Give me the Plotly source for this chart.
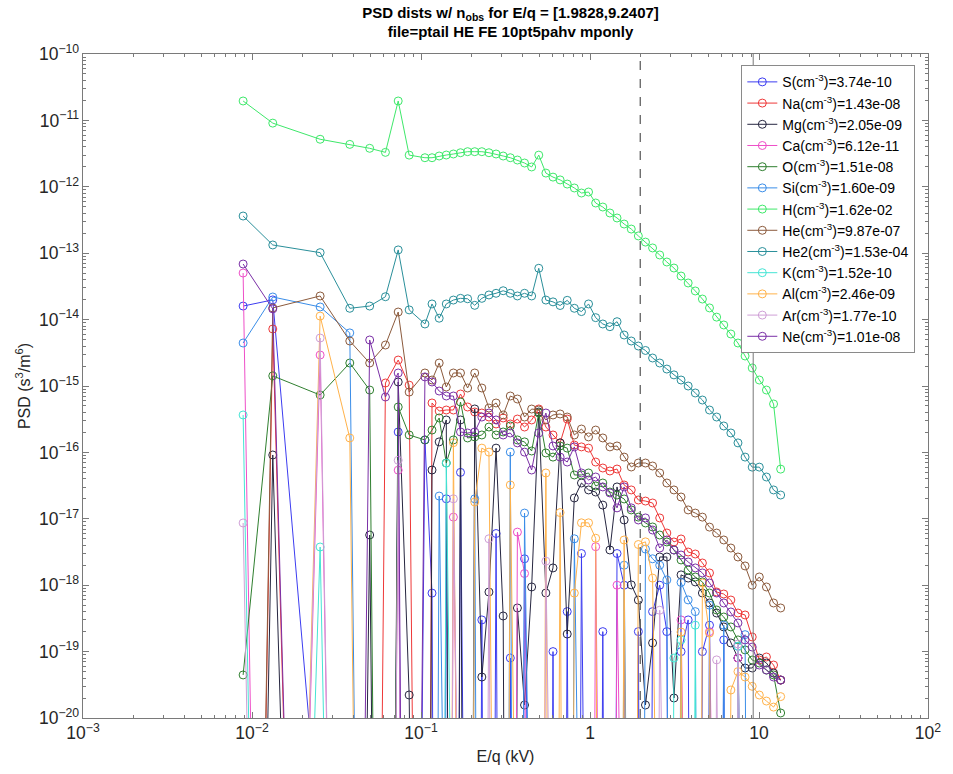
import plotly.graph_objects as go

# Energy steps (kV)
E_kV = [0.00886, 0.01327, 0.0253, 0.0379, 0.0497, 0.0616, 0.0733, 0.0851,
        0.1055, 0.1162, 0.1281, 0.1411, 0.1555, 0.1713, 0.1887, 0.2079, 0.2291, 0.2524,
        0.2781, 0.3064, 0.3376, 0.3720, 0.4099, 0.4516, 0.4976, 0.5482, 0.6040, 0.6655,
        0.7333, 0.8079, 0.8901, 0.9806, 1.0805, 1.1905, 1.3117, 1.4454, 1.5922, 1.7543,
        1.9324, 2.1293, 2.3462, 2.5853, 2.8489, 3.1385, 3.4578, 3.8098, 4.1976, 4.6248,
        5.0954, 5.6145, 6.1858, 6.8155, 7.5093, 8.2737, 9.1168, 10.044, 11.066, 12.194, 13.434]

species = ["S", "Na", "Mg", "Ca", "O", "Si", "H", "He", "He2", "K", "Al", "Ar", "Ne"]
density = ["3.74e-10", "1.43e-08", "2.05e-09", "6.12e-11", "1.51e-08", "1.60e-09", "1.62e-02",
           "9.87e-07", "1.53e-04", "1.52e-10", "2.46e-09", "1.77e-10", "1.01e-08"]
colors = ["#3c3cf0", "#ee3838", "#262640", "#ee4fc8", "#2f7f2f", "#3a8de8", "#3ee86a",
          "#8b5a3c", "#2a8f9a", "#44e4d4", "#ffb24a", "#cf9fd6", "#7a2fa6"]

E_low, E_high = 1.9828, 9.2407

psd_S = [1.60e-14, 1.98e-14, 1e-22, 1e-40, 1e-40, 1e-40, 2.03e-16, 1e-40,
         1.54e-16, 7.6e-19, 1e-40, 2.0e-17, 1e-40, 5.0e-17, 1e-40, 1e-40, 3.0e-19, 1e-40,
         6.0e-18, 1e-40, 8.0e-20, 1e-40, 2.5e-18, 1e-40, 1e-40, 1e-40, 1.0e-19, 1e-40,
         4.0e-19, 1e-40, 3.0e-18, 1e-40, 1e-40, 2.0e-19, 1e-40, 3.0e-18, 1.0e-18, 1e-40,
         2.0e-19, 1e-40, 4.0e-19, 1.0e-18, 2.0e-19, 1e-40, 1.0e-19, 3.0e-19, 1e-40, 1.0e-19,
         2.5e-19, 1e-40, 1.5e-19, 1e-40, 8.0e-20, 1e-40, 1e-40, 1e-40, 1e-40, 1e-40, 1e-40]

psd_Na = [1e-40, 7.22e-15, 1e-40, 1e-40, 1e-40, 1.11e-15, 2.46e-15, 1.03e-15,
          1e-40, 5.55e-16, 4.2e-16, 4.35e-16, 4.35e-16, 7.58e-16, 4.83e-16, 4.06e-16, 3.92e-16, 3.41e-16,
          2.68e-16, 3.30e-16, 2.68e-16, 3.18e-16, 2.41e-16, 3.08e-16, 4.51e-16, 2.41e-16, 1.83e-16, 1.39e-16,
          3.18e-16, 1.29e-16, 1.21e-16, 1.16e-16, 7.16e-17, 5.82e-17, 5.25e-17, 5.62e-17, 3.23e-17, 2.72e-17,
          1.92e-17, 1.85e-17, 1.73e-17, 1.03e-17, 6.11e-18, 4.48e-18, 4.97e-18, 3.16e-18, 2.95e-18, 2.16e-18,
          1.53e-18, 7.9e-19, 7.37e-19, 5.98e-19, 3.81e-19, 3.56e-19, 1.66e-19, 7.47e-20, 8.3e-20, 6.28e-20, 3.73e-20]

psd_Mg = [1e-40, 9.14e-17, 1e-40, 1e-40, 5.70e-18, 1e-40, 1.15e-15, 2.22e-20,
          1e-40, 5.43e-17, 1.44e-16, 3.08e-16, 1e-40, 3.08e-16, 1e-40, 4.51e-16, 4.14e-20, 7.9e-19,
          1.16e-16, 3.44e-19, 1e-40, 4.54e-19, 1.57e-20, 9.4e-19, 4.06e-16, 7.63e-19, 1.82e-18, 1.39e-16,
          1.84e-19, 2.06e-17, 3.46e-17, 2.72e-17, 2.53e-17, 1.61e-17, 3.39e-18, 3.02e-17, 9.6e-18, 1.01e-18,
          5.98e-19, 1.57e-20, 1.35e-19, 2.66e-18, 2.66e-18, 2.0e-20, 1.43e-18, 1.28e-18, 1.12e-18, 7.63e-19,
          5.40e-19, 3.81e-19, 2.35e-19, 1.35e-19, 8.0e-20, 5.66e-20, 5.66e-20, 8.0e-20, 6.73e-20, 4.76e-20, 3.73e-20]

psd_Ca = [5.03e-14, 1e-40, 2.93e-15, 1e-40, 1e-40, 1e-40, 5.4e-17, 1e-40,
          1e-40, 1e-40, 1e-40, 1e-40, 1.06e-17, 1e-40, 1e-40, 1e-40, 1e-40, 1e-40,
          1e-40, 1e-40, 1e-40, 6.3e-18, 1.5e-18, 1e-40, 1e-40, 1e-40, 1e-40, 1e-40,
          1e-40, 1e-40, 1e-40, 1e-40, 3.8e-18, 1e-40, 1e-40, 1.0e-18, 1e-40, 1e-40,
          1e-40, 1e-40, 1e-40, 1e-40, 1e-40, 1e-40, 3.0e-19, 1e-40, 1e-40, 1e-40,
          2.0e-19, 1e-40, 1e-40, 1e-40, 8.0e-20, 1e-40, 1e-40, 1e-40, 1e-40, 1e-40, 1e-40]

psd_O = [4.45e-20, 1.42e-15, 7.32e-16, 2.22e-15, 8.7e-16, 1e-40, 4.83e-16, 1.83e-16,
         1.54e-16, 2.17e-16, 3.30e-16, 6.92e-17, 1.54e-16, 5.74e-16, 1.65e-16, 1.71e-16, 1.83e-16, 2.41e-16,
         1.83e-16, 2.03e-16, 2.50e-16, 1.54e-16, 1.44e-16, 1.05e-16, 3.92e-16, 9.8e-17, 8.5e-17, 1.25e-16,
         1.16e-16, 4.57e-17, 4.57e-17, 4.9e-17, 3.12e-17, 3.46e-17, 2.53e-17, 2.28e-17, 1.99e-17, 1.36e-17,
         1.06e-17, 8.65e-18, 7.53e-18, 5.70e-18, 4.48e-18, 3.39e-18, 2.40e-18, 1.69e-18, 1.33e-18, 1.12e-18,
         7.63e-19, 4.23e-19, 3.32e-19, 2.35e-19, 1.50e-19, 1.06e-19, 7.47e-20, 6.73e-20, 5.28e-20, 4.45e-20, 1.19e-20]

psd_Si = [4.44e-15, 2.19e-14, 1.55e-14, 6.3e-15, 1e-40, 1e-40, 1e-40, 1e-40,
          1e-40, 1e-40, 2.2e-17, 1e-40, 1e-40, 1e-40, 1e-40, 2.0e-17, 1e-40, 1e-40,
          1e-40, 1e-40, 1.01e-16, 1e-40, 1.22e-17, 1e-40, 1e-40, 1e-40, 1e-40, 1e-40,
          1e-40, 5.0e-18, 1e-40, 1e-40, 1e-40, 1e-40, 1e-40, 1e-40, 2.0e-18, 1e-40,
          1e-40, 3.5e-18, 2.5e-18, 2.0e-18, 1.2e-18, 1e-40, 1.1e-18, 6.0e-19, 4.0e-19, 1e-40,
          5.0e-19, 1e-40, 2.5e-19, 1e-40, 1.2e-19, 1.8e-19, 1e-40, 1e-40, 1e-40, 1e-40, 1e-40]

psd_H = [1.96e-11, 9.1e-12, 5.2e-12, 4.35e-12, 3.8e-12, 3.3e-12, 1.96e-11, 3.0e-12,
         2.74e-12, 2.74e-12, 2.91e-12, 3.01e-12, 3.12e-12, 3.26e-12, 3.38e-12, 3.38e-12, 3.38e-12, 3.26e-12,
         3.12e-12, 2.91e-12, 2.74e-12, 2.53e-12, 2.28e-12, 1.99e-12, 3.0e-12, 1.61e-12, 1.40e-12, 1.27e-12,
         1.10e-12, 9.6e-13, 8.06e-13, 8.35e-13, 5.7e-13, 4.96e-13, 4.03e-13, 3.39e-13, 2.75e-13, 2.31e-13,
         1.82e-13, 1.47e-13, 1.20e-13, 9.4e-14, 7.37e-14, 5.98e-14, 4.53e-14, 3.56e-14, 2.70e-14, 2.04e-14,
         1.50e-14, 1.09e-14, 8.3e-15, 6.07e-15, 4.44e-15, 2.83e-15, 1.87e-15, 1.23e-15, 8.7e-16, 5.36e-16, 5.6e-17]

psd_He = [1e-40, 1.50e-14, 2.27e-14, 4.76e-15, 2.22e-15, 4.14e-15, 1.30e-14, 8.1e-16,
          1.57e-15, 1.23e-15, 2.22e-15, 9.66e-16, 1.57e-15, 1.57e-15, 9.33e-16, 1.57e-15, 9.33e-16, 4.66e-16,
          5.55e-16, 3.66e-16, 7.07e-16, 6.37e-16, 3.41e-16, 4.5e-16, 4.35e-16, 3.08e-16, 3.66e-16, 3.79e-16,
          3.41e-16, 1.83e-16, 2.25e-16, 1.71e-16, 2.17e-16, 1.65e-16, 1.21e-16, 1.25e-16, 8.5e-17, 6.03e-17,
          6.92e-17, 6.92e-17, 6.24e-17, 4.9e-17, 3.46e-17, 2.72e-17, 2.13e-17, 1.36e-17, 1.22e-17, 1.06e-17,
          7.5e-18, 6.1e-18, 4.8e-18, 3.63e-18, 2.66e-18, 1.95e-18, 1.0e-18, 1.33e-18, 9.4e-19, 5.4e-19, 4.54e-19]

psd_He2 = [3.63e-13, 1.33e-13, 1.02e-13, 1.48e-14, 1.60e-14, 2.21e-14, 1.12e-13, 1.40e-14,
           8.59e-15, 1.72e-14, 1.05e-14, 1.72e-14, 1.97e-14, 2.09e-14, 2.06e-14, 1.64e-14, 2.09e-14, 2.35e-14,
           2.49e-14, 2.72e-14, 2.49e-14, 2.27e-14, 2.49e-14, 2.27e-14, 5.93e-14, 1.97e-14, 1.85e-14, 1.63e-14,
           1.95e-14, 1.48e-14, 1.32e-14, 1.72e-14, 1.07e-14, 8.59e-15, 7.82e-15, 9.3e-15, 5.86e-15, 4.76e-15,
           4.0e-15, 3.43e-15, 2.64e-15, 2.22e-15, 1.80e-15, 1.47e-15, 1.23e-15, 1.0e-15, 7.85e-16, 6.15e-16,
           4.35e-16, 3.41e-16, 2.50e-16, 1.96e-16, 1.39e-16, 8.5e-17, 6.0e-17, 6.0e-17, 4.26e-17, 2.72e-17, 2.28e-17]

psd_K = [3.66e-16, 1e-40, 3.76e-18, 1e-40, 1e-40, 1e-40, 1e-40, 1e-40,
         1e-40, 1e-40, 1e-40, 6.9e-17, 1e-40, 1e-40, 1e-40, 1e-40, 1e-40, 1e-40,
         1e-40, 1e-40, 1e-40, 1e-40, 1e-40, 1e-40, 1e-40, 1e-40, 1e-40, 1e-40,
         1e-40, 1e-40, 1e-40, 1e-40, 1e-40, 1e-40, 1e-40, 1e-40, 1e-40, 1e-40,
         1e-40, 1e-40, 1e-40, 1e-40, 1e-40, 8.0e-20, 1.5e-19, 1e-40, 2.5e-19, 1e-40,
         1e-40, 1e-40, 1e-40, 1e-40, 1.2e-19, 1e-40, 1e-40, 1e-40, 1e-40, 1e-40, 1e-40]

psd_Al = [1e-40, 1e-40, 1.13e-14, 1.65e-16, 1e-40, 1e-40, 1e-40, 1e-40,
          1e-40, 1e-40, 1e-40, 1e-40, 1.4e-16, 1e-40, 1e-40, 1.79e-17, 1.16e-16, 1.01e-16,
          1e-40, 1e-40, 3.23e-17, 1e-40, 1e-40, 1e-40, 1e-40, 4.9e-17, 1e-40, 1.24e-17,
          1e-40, 7.6e-19, 8.7e-18, 8.7e-18, 5.1e-18, 1e-40, 1e-40, 1e-40, 4.8e-18, 1e-40,
          4.1e-18, 4.5e-18, 1.28e-18, 1e-40, 1e-40, 1e-40, 1.97e-19, 1e-40, 1e-40, 1.08e-18,
          1.9e-19, 1e-40, 1e-40, 2.64e-20, 5.0e-20, 4.14e-20, 3.0e-20, 2.22e-20, 1.8e-20, 1.46e-20, 2.1e-20]

psd_Ar = [8.65e-18, 1e-40, 5.28e-15, 1e-40, 1e-40, 1e-40, 7.6e-17, 1e-40,
          1e-40, 1e-40, 1e-40, 1e-40, 2.0e-17, 1e-40, 1e-40, 1e-40, 1e-40, 5.0e-18,
          1e-40, 1e-40, 1e-40, 1e-40, 1e-40, 1e-40, 1e-40, 2.3e-18, 1e-40, 1e-40,
          1e-40, 1e-40, 1e-40, 1e-40, 1e-40, 1e-40, 1e-40, 1e-40, 1e-40, 1e-40,
          1e-40, 1e-40, 1e-40, 4.2e-19, 1e-40, 1e-40, 1e-40, 1e-40, 1e-40, 1e-40,
          1e-40, 7.5e-20, 1e-40, 1e-40, 1.3e-19, 1e-40, 1e-40, 1e-40, 1e-40, 1e-40, 1e-40]

psd_Ne = [6.87e-14, 1.45e-14, 1e-40, 1e-40, 4.93e-15, 6.83e-16, 1.57e-15, 1e-40,
          1.37e-15, 1.15e-15, 8.4e-16, 7.07e-16, 7.07e-16, 2.03e-16, 1.96e-16, 2.03e-16, 3.41e-16, 3.92e-16,
          3.08e-16, 1.83e-16, 1.96e-16, 1.39e-16, 1.01e-16, 5.43e-17, 1.96e-16, 3.92e-16, 1.25e-16, 8.5e-17,
          7.16e-17, 1.21e-16, 4.9e-17, 3.84e-17, 4.26e-17, 3.02e-17, 2.45e-17, 1.46e-17, 3.02e-17, 1.46e-17,
          9.6e-18, 1.03e-17, 6.78e-18, 3.63e-18, 4.80e-18, 3.39e-18, 2.85e-18, 2.24e-18, 1.82e-18, 1.53e-18,
          1.08e-18, 7.63e-19, 5.40e-19, 3.95e-19, 2.70e-19, 1.50e-19, 1.17e-19, 6.28e-20, 5.28e-20, 4.14e-20, 3.73e-20]

series = [psd_S, psd_Na, psd_Mg, psd_Ca, psd_O, psd_Si, psd_H, psd_He, psd_He2,
          psd_K, psd_Al, psd_Ar, psd_Ne]

FONT = "Liberation Sans, Arial, Helvetica, sans-serif"
AXC = "#7a7a7a"

fig = go.Figure()

for name, dens, col, ys in zip(species, density, colors, series):
    fig.add_trace(go.Scatter(
        x=E_kV, y=ys, mode="lines+markers",
        name=f"{name}(cm<sup>-3</sup>)={dens}",
        legendgroup=name,
        line=dict(color=col, width=1),
        marker=dict(symbol="circle-open", size=8, color=col, line=dict(width=1, color=col)),
    ))

# energy window boundaries
fig.add_trace(go.Scatter(x=[E_low, E_low], y=[1e-20, 1e-10], mode="lines",
                         line=dict(color="#555555", width=1.2, dash="dash"),
                         showlegend=False, hoverinfo="skip"))
fig.add_trace(go.Scatter(x=[E_high, E_high], y=[1e-20, 1e-10], mode="lines",
                         line=dict(color="#777777", width=1),
                         showlegend=False, hoverinfo="skip"))

axis_common = dict(
    type="log", dtick=1, exponentformat="power", showgrid=False, zeroline=False,
    showline=True, linecolor=AXC, linewidth=1, mirror="allticks",
    ticks="inside", ticklen=6, tickcolor=AXC,
    minor=dict(ticks="inside", ticklen=3, tickcolor=AXC, dtick="D1", showgrid=False),
    tickfont=dict(family=FONT, size=14, color="#262626"),
)

fig.update_layout(
    width=953, height=774,
    margin=dict(l=83, r=15, t=54, b=56),
    paper_bgcolor="white", plot_bgcolor="white",
    font=dict(family=FONT, color="#262626"),
    title=dict(
        text="<b>PSD dists w/ n<sub>obs</sub> for E/q = [1.9828,9.2407]<br>file=ptail HE FE 10pt5pahv mponly</b>",
        x=0.5357, xanchor="center", y=0.977, yanchor="top",
        font=dict(family=FONT, size=15, color="#000000"),
    ),
    xaxis=dict(range=[-3, 2], title=dict(text="E/q (kV)", font=dict(family=FONT, size=16), standoff=8),
               **axis_common),
    yaxis=dict(range=[-20, -10], title=dict(text="PSD (s<sup>3</sup>/m<sup>6</sup>)",
                                             font=dict(family=FONT, size=16), standoff=4),
               **axis_common),
    legend=dict(x=0.985, y=0.983, xanchor="right", yanchor="top",
                bgcolor="white", bordercolor="#8a8a8a", borderwidth=1,
                font=dict(family=FONT, size=14, color="#000000"),
                tracegroupgap=0, itemwidth=30),
    showlegend=True,
)

fig.write_html("out.html")
